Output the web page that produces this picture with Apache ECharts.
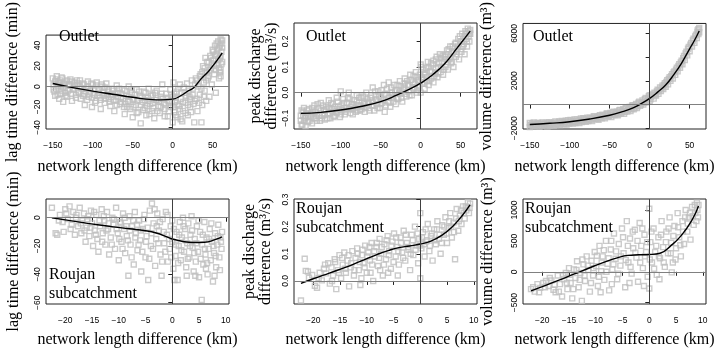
<!DOCTYPE html>
<html style="height: 100%">
<head>
    <meta charset="utf-8">
    <title>network length difference</title>
    <script type="text/javascript" src="https://cdn.jsdelivr.net/npm/echarts@6/dist/echarts.min.js"></script>
</head>
<body style="height: 100%; margin: 0; background: #fff">
    <div id="container" style="width: 718px; height: 351px"></div>
    <script type="text/javascript">
        // tick positions
        var xTicksOutlet = [-150, -100, -50, 0, 50];
        var xTicksRoujan = [-20, -15, -10, -5, 0, 5, 10];
        var yTicksLagOutlet = [-40, -20, 0, 20, 40];
        var yTicksPeakOutlet = [-0.1, 0.0, 0.1, 0.2];
        var yTicksVolOutlet = [-2000, 0, 2000, 4000, 6000];
        var yLabelsVolOutlet = [-2000, 2000, 6000];
        var yTicksLagRoujan = [-60, -40, -20, 0];
        var yTicksPeakRoujan = [0.0, 0.1, 0.2, 0.3];
        var yTicksVolRoujan = [-500, 0, 500, 1000];

        // Outlet - lag time difference (min)
        var lagOutletPts = [
            [-150,8],[-149,2],[-148,-5],[-147,5],[-146,-2],[-145,10],[-144,-8],[-143,3],[-142,-12],[-141,6],[-140,0],[-139,-4],
            [-138,8],[-137,-15],[-136,2],[-135,-6],[-133,5],[-132,-10],[-130,1],[-129,-3],[-128,7],[-126,-14],[-125,-2],[-123,4],
            [-121,-8],[-120,6],[-118,-5],[-116,0],[-115,-12],[-113,3],[-111,-7],[-110,-18],[-108,-2],[-106,5],[-105,-10],[-103,-4],
            [-101,-20],[-100,2],[-98,-8],[-96,-14],[-95,4],[-93,-6],[-91,-11],[-90,-22],[-88,0],[-86,-9],[-85,-16],[-83,3],
            [-81,-5],[-80,-12],[-78,-19],[-76,-2],[-75,-8],[-73,-24],[-71,-14],[-70,1],[-68,-6],[-66,-17],[-65,-11],[-63,-3],
            [-61,-20],[-60,-27],[-58,-9],[-56,-14],[-55,0],[-53,-22],[-51,-6],[-50,-30],[-48,-12],[-46,-18],[-45,-3],[-43,-25],
            [-41,-9],[-40,-36],[-38,-15],[-36,-5],[-35,-21],[-33,-28],[-31,-11],[-30,-2],[-28,-17],[-26,-24],[-25,-8],[-23,-31],
            [-21,-13],[-20,-4],[-18,-19],[-16,-26],[-15,-10],[-13,2],[-11,-16],[-10,-22],[-8,-7],[-6,-29],[-5,-14],[-3,-3],
            [-2,-20],[0,-35],[0,-10],[1,4],[2,-25],[3,-15],[5,-5],[6,-30],[8,-19],[9,2],[10,-12],[12,-34],[13,-24],[15,-6],
            [16,-16],[18,3],[19,-28],[21,-10],[22,-20],[24,6],[25,-2],[27,-35],[28,-14],[29,8],[31,-24],[32,0],[34,-8],[35,12],
            [36,-35],[37,-18],[38,20],[39,4],[40,-4],[41,28],[42,-14],[43,14],[44,8],[45,24],[46,-10],[47,30],[48,18],[49,2],
            [50,36],[51,26],[52,12],[53,40],[54,-6],[55,32],[56,22],[57,44],[58,8],[58,38],[59,28],[60,46],[60,16],[61,34],
            [61,42],[62,24],[62,45],
            [-149,-3],[-147,-9],[-146,7],[-144,1],[-142,4],[-140,-7],[-139,9],[-137,-1],[-135,3],[-134,-9],[-132,6],[-131,-4],
            [-129,2],[-127,-7],[-126,5],[-124,-3],[-122,1],[-121,-11],[-119,3],[-117,-6],[-116,6],[-114,-2],[-112,-9],[-111,2],
            [-109,-5],[-107,-13],[-106,0],[-104,-7],[-102,3],[-101,-11],[-99,-3],[-97,-16],[-96,1],[-94,-9],[-92,-3],[-90,-13],
            [-89,2],[-87,-6],[-85,-1],[-84,-12],[-82,-8],[-80,-3],[-79,-15],[-77,-10],[-75,-4],[-74,-13],[-72,-7],[-70,-18],
            [-69,-10],[-67,-2],[-65,-15],[-64,-7],[-62,-12],[-60,-4],[-59,-17],[-57,-20],[-55,-10],[-54,-15],[-52,-3],[-50,-13],
            [-49,-20],[-47,-8],[-45,-26],[-44,-14],[-42,-5],[-40,-18],[-39,-11],[-37,-23],[-35,-13],[-34,-6],[-32,-19],[-30,-14],
            [-29,-27],[-27,-9],[-25,-16],[-24,-21],[-22,-6],[-20,-13],[-19,-24],[-17,-15],[-15,-20],[-14,-7],[-12,-12],[-10,-29],
            [-9,-18],[-7,-11],[-5,-24],[-4,-16],[-2,-8],[-1,-14],[1,-20],[2,-7],[4,-28],[4,-11],[6,-18],[7,-2],[9,-22],[10,-32],
            [11,-6],[13,-15],[14,-1],[16,-26],[17,-9],[19,-18],[20,-4],[22,-12],[23,-25],[25,-8],[26,-17],[28,2],[30,-12],[31,6],
            [33,-16],[34,10],[36,-2],[37,14],[39,-10],[40,18],[42,6],[43,24],[45,10],[46,16],[48,28],[49,22],[51,34],[52,20],
            [53,30],[54,16],[55,42],[56,36],[57,26],[58,18],[59,40],[60,30],[61,22],[62,38],[59,14],[60,10]
        ];
        var lagOutletFit = [[-150,3],[-125,-1],[-100,-4.5],[-75,-7.5],[-50,-10.5],[-25,-12.8],[-15,-13],[0,-12.3],
            [10,-9],[20,-4],[26,-1.5],[35,7],[45,15],[50,20],[56,26],[62,33]];

        // Outlet - peak discharge difference (m3/s)
        var peakOutletPts = [
            [-150,-0.11],[-149,-0.07],[-148,-0.125],[-147,-0.09],[-146,-0.06],[-145,-0.1],[-144,-0.13],[-143,-0.08],[-141,-0.115],
            [-140,-0.065],[-138,-0.095],[-136,-0.12],[-135,-0.075],[-133,-0.05],[-131,-0.1],[-130,-0.085],[-128,-0.06],[-126,-0.11],
            [-125,-0.04],[-123,-0.09],[-121,-0.07],[-120,-0.105],[-118,-0.055],[-116,-0.085],[-115,-0.03],[-113,-0.1],[-111,-0.065],
            [-110,-0.045],[-108,-0.09],[-106,-0.075],[-105,-0.02],[-103,-0.055],[-101,-0.095],[-100,0.005],[-98,-0.07],[-96,-0.04],
            [-95,-0.085],[-93,-0.06],[-91,-0.02],[-90,0.0],[-88,-0.08],[-86,-0.045],[-85,-0.065],[-83,-0.03],[-81,-0.075],[-80,-0.01],
            [-78,-0.05],[-76,-0.07],[-75,-0.02],[-73,-0.055],[-71,-0.04],[-70,-0.075],[-68,0.0],[-66,-0.035],[-65,-0.06],[-63,-0.02],
            [-61,-0.05],[-60,0.02],[-58,-0.07],[-56,-0.03],[-55,-0.045],[-53,0.005],[-51,-0.06],[-50,-0.02],[-48,-0.04],[-46,0.03],
            [-45,-0.075],[-43,-0.01],[-41,-0.035],[-40,0.04],[-38,-0.055],[-36,0.0],[-35,-0.02],[-33,0.03],[-31,-0.045],[-30,0.01],
            [-28,-0.025],[-26,0.045],[-25,-0.005],[-23,-0.035],[-21,0.02],[-20,0.055],[-18,-0.015],[-16,0.03],[-15,0.005],[-13,0.07],
            [-11,-0.01],[-10,0.04],[-8,0.015],[-6,0.08],[-5,0.0],[-3,0.05],[-2,0.025],[0,0.11],[0,0.0],[1,0.06],[2,0.035],[3,0.09],
            [5,0.015],[6,0.07],[8,0.045],[9,0.12],[10,0.03],[12,0.085],[13,0.055],[15,0.11],[16,0.04],[18,0.075],[19,0.13],[21,0.06],
            [22,0.1],[24,0.15],[25,0.08],[27,0.12],[28,0.07],[30,0.14],[31,0.1],[33,0.165],[34,0.09],[36,0.13],[37,0.18],[38,0.115],
            [40,0.155],[41,0.1],[43,0.19],[44,0.14],[46,0.17],[47,0.21],[48,0.13],[50,0.2],[51,0.16],[52,0.23],[54,0.19],[55,0.15],
            [56,0.24],[57,0.21],[58,0.18],[59,0.25],[60,0.22],[61,0.2],[62,0.245],[62,0.23],
            [-150,-0.09],[-149,-0.125],[-147,-0.075],[-146,-0.11],[-144,-0.095],[-142,-0.07],[-141,-0.09],[-139,-0.11],[-137,-0.085],
            [-136,-0.06],[-134,-0.1],[-132,-0.075],[-130,-0.11],[-129,-0.045],[-127,-0.09],[-125,-0.07],[-124,-0.1],[-122,-0.05],
            [-120,-0.085],[-119,-0.065],[-117,-0.1],[-115,-0.06],[-114,-0.08],[-112,-0.04],[-110,-0.075],[-109,-0.095],[-107,-0.055],
            [-105,-0.08],[-104,-0.035],[-102,-0.065],[-100,-0.085],[-99,-0.05],[-97,-0.025],[-95,-0.06],[-94,-0.075],[-92,-0.04],
            [-90,-0.065],[-89,-0.025],[-87,-0.055],[-85,-0.085],[-84,-0.045],[-82,-0.06],[-80,-0.035],[-79,-0.07],[-77,-0.02],
            [-75,-0.05],[-74,-0.065],[-72,-0.015],[-70,-0.045],[-69,-0.06],[-67,-0.025],[-65,-0.04],[-64,-0.07],[-62,-0.01],
            [-60,-0.035],[-59,-0.05],[-57,0.005],[-55,-0.025],[-54,-0.06],[-52,-0.015],[-50,-0.045],[-49,0.01],[-47,-0.03],
            [-45,-0.005],[-44,-0.05],[-42,0.015],[-40,-0.02],[-39,-0.04],[-37,0.02],[-35,-0.01],[-34,-0.035],[-32,0.005],[-30,-0.02],
            [-29,0.03],[-27,0.0],[-25,0.025],[-24,-0.02],[-22,0.01],[-20,0.035],[-19,-0.005],[-17,0.045],[-15,0.03],[-14,-0.01],
            [-12,0.05],[-10,0.02],[-9,0.065],[-7,0.035],[-5,0.06],[-4,0.01],[-2,0.045],[-1,0.07],[1,0.1],[2,0.05],[4,0.075],[5,0.04],
            [7,0.095],[8,0.06],[10,0.1],[11,0.045],[13,0.115],[14,0.08],[16,0.125],[17,0.065],[19,0.095],[20,0.14],[22,0.075],
            [23,0.115],[25,0.135],[26,0.1],[28,0.145],[29,0.09],[31,0.13],[32,0.15],[34,0.12],[35,0.17],[37,0.14],[39,0.12],
            [40,0.18],[42,0.16],[44,0.195],[45,0.15],[47,0.18],[49,0.22],[50,0.17],[52,0.2],[53,0.18],[55,0.22],[57,0.23],[58,0.2],
            [60,0.24],[61,0.23]
        ];
        var peakOutletFit = [[-150,-0.081],[-125,-0.077],[-100,-0.068],[-75,-0.054],[-50,-0.035],[-30,-0.01],[-15,0.012],
            [0,0.037],[15,0.07],[30,0.113],[45,0.172],[55,0.212],[62,0.24]];

        // Outlet - volume difference (m3)
        var volOutletPts = [
            [-150,-1900],[-150,-1550],[-148,-1750],[-146,-1850],[-145,-1500],[-143,-1700],[-141,-1800],[-140,-1550],[-138,-1880],
            [-136,-1650],[-134,-1500],[-132,-1750],[-130,-1600],[-128,-1850],[-126,-1480],[-124,-1700],[-122,-1580],[-120,-1780],
            [-118,-1420],[-116,-1650],[-114,-1500],[-112,-1720],[-110,-1380],[-108,-1600],[-106,-1450],[-104,-1680],[-102,-1320],
            [-100,-1550],[-98,-1400],[-96,-1600],[-94,-1250],[-92,-1480],[-90,-1350],[-88,-1550],[-86,-1180],[-84,-1400],[-82,-1250],
            [-80,-1450],[-78,-1100],[-76,-1330],[-74,-1180],[-72,-1380],[-70,-1000],[-68,-1220],[-66,-1050],[-64,-1280],[-62,-900],
            [-60,-1150],[-58,-950],[-56,-1150],[-54,-780],[-52,-1000],[-50,-850],[-48,-1050],[-46,-650],[-44,-880],[-42,-700],
            [-40,-900],[-38,-500],[-36,-750],[-34,-550],[-32,-780],[-30,-300],[-28,-580],[-26,-350],[-24,-550],[-22,-100],[-20,-400],
            [-18,-150],[-16,-300],[-14,150],[-12,-100],[-10,150],[-8,0],[-6,450],[-4,200],[-2,500],[0,300],[0,800],[2,650],[4,900],
            [5,500],[6,1000],[8,750],[10,1250],[11,900],[13,1450],[14,1150],[16,1600],[17,1300],[19,1800],[20,1500],[22,2050],
            [23,1700],[25,2300],[26,2000],[28,2550],[29,2200],[31,2800],[32,2500],[34,3100],[35,2800],[37,3400],[38,3100],[40,3700],
            [41,3400],[43,4100],[44,3750],[46,4450],[47,4150],[49,4850],[50,4500],[52,5200],[53,4900],[55,5550],[56,5200],[58,5900],
            [59,5600],[60,6250],[61,5950],[62,6450],[62,6100],
            [-149,-1700],[-147,-1600],[-144,-1820],[-142,-1620],[-139,-1720],[-137,-1550],[-135,-1800],[-133,-1650],[-131,-1720],
            [-129,-1530],[-127,-1680],[-125,-1780],[-123,-1560],[-121,-1650],[-119,-1500],[-117,-1720],[-115,-1600],[-113,-1420],
            [-111,-1580],[-109,-1480],[-107,-1650],[-105,-1350],[-103,-1500],[-101,-1600],[-99,-1300],[-97,-1480],[-95,-1380],
            [-93,-1550],[-91,-1250],[-89,-1400],[-87,-1300],[-85,-1480],[-83,-1150],[-81,-1350],[-79,-1250],[-77,-1400],[-75,-1100],
            [-73,-1280],[-71,-1150],[-69,-1000],[-67,-1150],[-65,-1200],[-63,-950],[-61,-1080],[-59,-850],[-57,-1020],[-55,-900],
            [-53,-750],[-51,-950],[-49,-700],[-47,-880],[-45,-600],[-43,-780],[-41,-600],[-39,-800],[-37,-450],[-35,-650],[-33,-400],
            [-31,-600],[-29,-250],[-27,-450],[-25,-200],[-23,-380],[-21,-50],[-19,-300],[-17,50],[-15,-150],[-13,250],[-11,0],
            [-9,350],[-7,150],[-5,550],[-3,300],[-1,700],[1,450],[3,800],[7,800],[9,1100],[12,1200],[15,1400],[18,1650],[21,1900],
            [24,2150],[27,2400],[30,2700],[33,2950],[36,3250],[39,3550],[42,3900],[45,4300],[48,4700],[51,5050],[54,5400],
            [57,5750],[60,6100],[61,6350]
        ];
        var volOutletFit = [[-150,-1680],[-125,-1580],[-100,-1450],[-75,-1220],[-50,-900],[-35,-620],[-20,-250],[-10,100],
            [0,520],[10,1050],[20,1650],[30,2500],[40,3500],[50,4700],[56,5400],[62,6200]];

        // Roujan subcatchment - lag time difference (min)
        var lagRoujanPts = [
            [-22.5,7],[-21.8,-11],[-21.5,-12],[-21,2],[-20.5,-3],[-20,6],[-19.5,-1],[-19.2,8],[-19,-8],[-18.5,4],[-18.2,-12],[-18,0],
            [-17.6,-6],[-17.3,7],[-17,-11],[-16.8,-2],[-16.5,3],[-16.2,-17],[-16,-7],[-15.7,1],[-15.5,-13],[-15.2,5],[-15,-4],
            [-14.8,-20],[-14.5,-9],[-14.2,2],[-14,-15],[-13.8,-24],[-13.5,-6],[-13.2,6],[-13,-11],[-12.7,-2],[-12.5,-19],[-12.2,4],
            [-12,-8],[-11.8,-26],[-11.5,-14],[-11.2,0],[-11,-5],[-10.7,-22],[-10.5,7],[-10.2,-11],[-10,-30],[-9.8,-3],[-9.5,-17],
            [-9.2,3],[-9,-8],[-8.8,-25],[-8.5,-13],[-8.2,-41],[-8,1],[-7.8,-19],[-7.5,-6],[-7.2,-33],[-7,4],[-6.8,-11],[-6.5,-23],
            [-6.2,-2],[-6,-16],[-5.8,-38],[-5.5,-8],[-5.2,2],[-5,-28],[-4.8,-13],[-4.5,-44],[-4.2,5],[-4,-20],[-3.8,10],[-3.5,-4],
            [-3.2,-34],[-3,-15],[-2.8,3],[-2.5,-9],[-2.2,-26],[-2,-41],[-1.8,-1],[-1.5,-18],[-1.2,4],[-1,-12],[-0.8,-31],[-0.5,-22],
            [-0.3,-6],[0,-2],[0,-17],[0.2,-36],[0.4,-44],[0.6,-27],[0.8,-10],[1,-44],[1.2,-20],[1.4,-3],[1.6,-30],[1.8,-14],[2,0],
            [2.2,-24],[2.4,-8],[2.6,-35],[2.8,-18],[3,-4],[3.2,-28],[3.4,-12],[3.6,1],[3.8,-21],[4,-38],[4.2,-15],[4.4,-31],[4.6,-6],
            [4.8,-24],[5,-42],[5.2,-10],[5.5,-58],[5.6,-19],[5.8,-33],[6,-3],[6.2,-26],[6.4,-14],[6.6,-40],[6.8,-22],[7,-8],[7.2,-30],
            [7.4,-17],[7.6,-45],[7.8,-25],[8,-11],[8.2,-35],[8.4,-19],[8.6,-5],[8.8,-28],[9,-14],[9.2,-22],[9.3,-10],
            [-21.2,-2],[-20.3,-10],[-19.8,3],[-18.8,-5],[-17.9,2],[-17.1,-4],[-16.4,-9],[-15.9,-1],[-15.3,-7],[-14.6,4],[-14.3,-12],
            [-13.6,-2],[-13.1,-17],[-12.8,1],[-12.3,-9],[-11.9,-4],[-11.3,-19],[-10.9,-1],[-10.4,-8],[-9.9,-15],[-9.6,-4],[-9.3,-22],
            [-8.9,0],[-8.6,-6],[-8.3,-16],[-7.9,-9],[-7.6,-28],[-7.3,-2],[-6.9,-14],[-6.6,-5],[-6.3,-19],[-5.9,-9],[-5.6,-24],
            [-5.3,-1],[-4.9,-17],[-4.6,-7],[-4.3,-29],[-3.9,-11],[-3.6,-22],[-3.3,6],[-2.9,-6],[-2.6,-18],[-2.3,-3],[-1.9,-31],
            [-1.6,-10],[-1.3,-24],[-0.9,2],[-0.6,-15],[-0.2,-28],[0.3,-8],[0.7,-19],[1.1,-32],[1.3,-12],[1.7,-23],[2.1,-6],[2.5,-16],
            [2.9,-29],[3.3,-20],[3.7,-9],[4.1,-25],[4.5,-18],[4.9,-2],[5.3,-29],[5.7,-12],[6.1,-22],[6.5,-32],[6.9,-15],[7.3,-4],
            [7.7,-20],[8.1,-27],[8.5,-13],[8.9,-37],[9.1,-17],[7.9,-41],[6.3,-36],[4.3,-41],[2.7,-41]
        ];
        var lagRoujanFit = [[-22.5,0],[-20,-1.5],[-17,-3.3],[-14,-5],[-11,-6.5],[-8,-7.8],[-5,-9.2],[-3,-10.8],[-1,-13.5],
            [0,-15],[2,-16.8],[4,-17.5],[6,-17.3],[8,-15.5],[9.3,-13.5]];

        // Roujan subcatchment - peak discharge difference (m3/s)
        var peakRoujanPts = [
            [-22.3,-0.072],[-21.6,0.082],[-21.4,0.037],[-20.8,0.012],[-20.2,0.022],[-19.7,-0.018],[-19.3,-0.025],[-18.8,0.03],
            [-18.4,0.002],[-18,0.045],[-17.6,0.028],[-17.2,0.065],[-16.9,-0.01],[-16.6,0.05],[-16.3,0.02],[-16,0.08],[-15.7,-0.03],
            [-15.4,0.04],[-15.1,0.095],[-14.8,0.01],[-14.5,0.06],[-14.2,0.105],[-13.9,0.03],[-13.6,0.075],[-13.3,-0.02],[-13,0.05],
            [-12.7,0.11],[-12.4,0.02],[-12.1,0.085],[-11.8,0.12],[-11.5,0.04],[-11.2,-0.015],[-10.9,0.095],[-10.6,0.065],[-10.3,0.13],
            [-10,0.03],[-9.7,0.105],[-9.4,0.075],[-9.1,0.14],[-8.8,0.0],[-8.5,0.09],[-8.2,0.125],[-7.9,0.055],[-7.6,0.155],[-7.3,0.1],
            [-7,0.02],[-6.7,0.135],[-6.4,0.08],[-6.1,0.165],[-5.8,0.11],[-5.5,0.045],[-5.2,0.145],[-4.9,0.175],[-4.6,0.09],[-4.3,0.125],
            [-4,0.06],[-3.7,0.16],[-3.4,0.105],[-3.1,0.185],[-2.8,0.075],[-2.5,0.14],[-2.2,0.115],[-1.9,0.04],[-1.6,0.17],[-1.3,0.095],
            [-1,0.2],[-0.7,0.13],[-0.4,0.065],[-0.2,0.155],[0,0.25],[0,0.01],[0.2,0.12],[0.5,0.18],[0.8,0.09],[1.1,0.145],[1.4,0.21],
            [1.7,0.11],[2,0.165],[2.3,0.075],[2.6,0.19],[2.9,0.135],[3.2,0.22],[3.5,0.155],[3.8,0.1],[4.1,0.205],[4.4,0.17],[4.7,0.235],
            [5,0.14],[5.3,0.195],[5.6,0.25],[5.9,0.16],[6.2,0.215],[6.5,0.08],[6.8,0.265],[7.1,0.185],[7.4,0.24],[7.7,0.21],[8,0.275],
            [8.3,0.23],[8.6,0.26],[8.9,0.29],[9.1,0.25],[9.3,0.285],
            [-21,0.035],[-19,0.01],[-17.8,0.06],[-16.5,0.0],[-15.9,0.07],[-15.2,0.03],[-14.6,0.085],[-14,0.045],[-13.4,0.095],
            [-12.9,0.065],[-12.3,0.04],[-11.7,0.1],[-11.3,0.07],[-10.8,0.115],[-10.4,0.05],[-9.9,0.09],[-9.5,0.125],[-9,0.06],
            [-8.6,0.11],[-8.1,0.14],[-7.7,0.085],[-7.2,0.125],[-6.8,0.06],[-6.3,0.15],[-5.9,0.095],[-5.4,0.13],[-5,0.07],[-4.5,0.16],
            [-4.1,0.11],[-3.6,0.14],[-3.2,0.085],[-2.7,0.17],[-2.3,0.125],[-1.8,0.1],[-1.4,0.15],[-0.9,0.115],[-0.5,0.175],
            [-0.1,0.13],[0.3,0.16],[0.7,0.135],[1,0.19],[1.3,0.15],[1.8,0.13],[2.2,0.175],[2.7,0.15],[3.1,0.19],[3.6,0.17],[4,0.14],
            [4.5,0.2],[4.9,0.175],[5.4,0.22],[5.8,0.2],[6.3,0.18],[6.7,0.23],[7.2,0.22],[7.6,0.26],[8.1,0.25],[8.5,0.275],[8.8,0.27],
            [9.2,0.27],[-7.5,0.04],[-9.3,0.03],[-11,0.01],[-6,0.03],[-4.2,0.02]
        ];
        var peakRoujanFit = [[-22.3,-0.009],[-20,0.008],[-17,0.029],[-14,0.05],[-11,0.074],[-8,0.098],[-6,0.112],[-4,0.123],
            [-2,0.129],[0,0.136],[2,0.147],[4,0.168],[6,0.2],[8,0.245],[9.3,0.28]];

        // Roujan subcatchment - volume difference (m3)
        var volRoujanPts = [
            [-22.1,-280],[-21.4,-320],[-20.9,-200],[-20.4,-260],[-19.8,-180],[-19.3,-150],[-18.8,-230],[-18.3,-140],[-17.9,-290],
            [-17.5,-330],[-17.1,-60],[-16.7,-200],[-16.3,-400],[-15.9,-120],[-15.6,-20],[-15.3,-280],[-15,60],[-14.7,-180],
            [-14.4,-430],[-14.1,40],[-13.8,-100],[-13.5,170],[-13.2,-250],[-12.9,-20],[-12.6,-470],[-12.3,120],[-12,-150],[-11.7,250],
            [-11.4,30],[-11.1,-320],[-10.8,180],[-10.5,-60],[-10.2,320],[-9.9,90],[-9.6,-230],[-9.3,420],[-9,10],[-8.7,250],
            [-8.4,-130],[-8.1,500],[-7.8,130],[-7.5,-300],[-7.2,360],[-6.9,40],[-6.6,620],[-6.3,210],[-6,-120],[-5.7,450],[-5.4,100],
            [-5.1,700],[-4.8,300],[-4.5,-250],[-4.2,820],[-3.9,150],[-3.6,540],[-3.3,-30],[-3,380],[-2.7,680],[-2.4,230],[-2.1,-160],
            [-1.8,790],[-1.5,420],[-1.2,60],[-0.9,600],[-0.6,320],[-0.3,-80],[0,1020],[0,-270],[0.2,480],[0.5,150],[0.8,700],
            [1.1,320],[1.4,-50],[1.7,560],[2,220],[2.3,820],[2.6,400],[2.9,80],[3.2,650],[3.5,300],[3.8,880],[4.1,470],[4.4,150],
            [4.7,740],[5,380],[5.3,950],[5.6,560],[5.9,250],[6.2,820],[6.5,450],[6.8,1000],[7.1,650],[7.4,880],[7.7,520],[8,1050],
            [8.3,760],[8.6,950],[8.9,1120],[9.1,880],[9.2,1080],
            [-21.7,-250],[-20.6,-330],[-19.5,-250],[-18.6,-100],[-17.7,-210],[-16.9,-320],[-16.1,-60],[-15.4,-180],[-14.9,-50],
            [-14.2,-280],[-13.6,30],[-13,-130],[-12.5,200],[-12.1,-60],[-11.5,100],[-10.9,-180],[-10.4,60],[-9.8,260],[-9.4,-80],
            [-8.9,150],[-8.5,350],[-8,0],[-7.6,220],[-7.1,500],[-6.7,120],[-6.2,330],[-5.8,-30],[-5.3,250],[-4.9,560],[-4.4,190],
            [-4,420],[-3.5,80],[-3.1,650],[-2.6,310],[-2.2,500],[-1.7,150],[-1.3,700],[-0.8,250],[-0.4,480],[0.1,200],[0.4,650],
            [0.9,50],[1.3,420],[1.8,250],[2.2,600],[2.7,150],[3.1,480],[3.6,700],[4,300],[4.5,580],[4.9,200],[5.4,720],[5.8,430],
            [6.3,650],[6.7,880],[7.2,780],[7.6,950],[8.1,900],[8.5,1080],[8.8,820],[9,1000],[-7,-200],[-9.1,-330],[-3.7,-180],
            [-1,-230],[1.9,-120],[4.2,-10]
        ];
        var volRoujanFit = [[-22.1,-308],[-20,-240],[-17,-140],[-14,-35],[-11,70],[-8,170],[-6,225],[-4,265],[-2,275],
            [0,280],[2,300],[4,420],[6,590],[8,840],[9.2,1065]];

        var serif = 'Liberation Serif';
        var sans = 'Liberation Sans';

        var panels = [
            { grid: [46, 23, 183, 106], pts: lagOutletPts, fit: lagOutletFit, xr: [-158.5, 70.5], yr: [-41.5, 50.3],
              xt: xTicksOutlet, yt: yTicksLagOutlet, yl: yTicksLagOutlet, dec: 0,
              yname: 'lag time difference (min)', ygap: 25, xgap: 30 },
            { grid: [294, 23, 183, 106], pts: peakOutletPts, fit: peakOutletFit, xr: [-158.5, 70.5], yr: [-0.142, 0.272],
              xt: xTicksOutlet, yt: yTicksPeakOutlet, yl: yTicksPeakOutlet, dec: 1,
              yname: 'peak discharge\ndifference (m³/s)', ygap: 14, xgap: 30 },
            { grid: [523, 23, 183, 106], pts: volOutletPts, fit: volOutletFit, xr: [-158.5, 70.5], yr: [-2060, 6840],
              xt: xTicksOutlet, yt: yTicksVolOutlet, yl: yLabelsVolOutlet, dec: 0,
              yname: 'volume difference (m³)', ygap: 28, xgap: 30 },
            { grid: [46, 199, 183, 105], pts: lagRoujanPts, fit: lagRoujanFit, xr: [-23.6, 10.6], yr: [-60.9, 13.2],
              xt: xTicksRoujan, yt: yTicksLagRoujan, yl: yTicksLagRoujan, dec: 0,
              yname: 'lag time difference (min)', ygap: 24, xgap: 28 },
            { grid: [294, 199, 183, 105], pts: peakRoujanPts, fit: peakRoujanFit, xr: [-23.6, 10.6], yr: [-0.085, 0.302],
              xt: xTicksRoujan, yt: yTicksPeakRoujan, yl: yTicksPeakRoujan, dec: 1,
              yname: 'peak discharge\ndifference (m³/s)', ygap: 20, xgap: 28 },
            { grid: [523, 199, 183, 105], pts: volRoujanPts, fit: volRoujanFit, xr: [-23.6, 10.6], yr: [-521, 1178],
              xt: xTicksRoujan, yt: yTicksVolRoujan, yl: yTicksVolRoujan, dec: 0,
              yname: 'volume difference (m³)', ygap: 27.5, xgap: 28 }
        ];

        function fmt(dec) {
            return function (v) {
                var s = dec ? v.toFixed(dec) : String(Math.round(v));
                return s.replace('-', '\u2212');
            };
        }

        var grids = [], xAxes = [], yAxes = [], series = [];
        panels.forEach(function (p, i) {
            grids.push({
                left: p.grid[0], top: p.grid[1], width: p.grid[2], height: p.grid[3],
                show: true, borderColor: '#222', borderWidth: 1, backgroundColor: 'transparent'
            });
            xAxes.push({
                gridIndex: i, type: 'value', min: p.xr[0], max: p.xr[1],
                name: 'network length difference (km)', nameLocation: 'middle', nameGap: p.xgap,
                nameTextStyle: { fontFamily: serif, fontSize: 16, color: '#000' },
                axisLine: { show: false },
                axisTick: { show: true, length: 4, customValues: p.xt, lineStyle: { color: '#222' } },
                axisLabel: { customValues: p.xt, margin: 12, fontFamily: sans, fontSize: 8.5, color: '#000', formatter: fmt(0) },
                splitLine: { show: false }
            });
            yAxes.push({
                gridIndex: i, type: 'value', min: p.yr[0], max: p.yr[1],
                name: p.yname, nameLocation: 'middle', nameGap: p.ygap, nameRotate: 90,
                nameTextStyle: { fontFamily: serif, fontSize: 16, color: '#000', lineHeight: 16 },
                axisLine: { show: false },
                axisTick: { show: true, length: 4, customValues: p.yt, lineStyle: { color: '#222' } },
                axisLabel: { customValues: p.yl, rotate: 90, margin: 4, fontFamily: sans, fontSize: 8.5, color: '#000', formatter: fmt(p.dec) },
                splitLine: { show: false }
            });
            series.push({
                type: 'scatter', xAxisIndex: i, yAxisIndex: i, data: p.pts,
                symbol: 'rect', symbolSize: 5, z: 1, silent: true,
                itemStyle: { color: 'transparent', borderColor: '#bebebe', borderWidth: 1.4 }
            });
            series.push({
                type: 'line', xAxisIndex: i, yAxisIndex: i, data: p.fit,
                smooth: true, symbol: 'none', z: 3, silent: true,
                lineStyle: { color: '#000', width: 1.4 },
                markLine: {
                    silent: true, symbol: ['none', 'none'], label: { show: false }, animation: false,
                    data: [
                        { yAxis: 0, lineStyle: { color: '#808080', width: 1, type: 'solid' } },
                        { xAxis: 0, lineStyle: { color: '#404040', width: 1, type: 'solid' } }
                    ]
                }
            });
        });

        var labelStyle = { fontFamily: serif, fontSize: 16, fontWeight: 'normal', color: '#000', lineHeight: 19 };
        var titles = [
            { text: 'Outlet', left: 59, top: 27 },
            { text: 'Outlet', left: 306, top: 27 },
            { text: 'Outlet', left: 533, top: 27 },
            { text: 'Roujan\nsubcatchment', left: 49, top: 265 },
            { text: 'Roujan\nsubcatchment', left: 296, top: 199 },
            { text: 'Roujan\nsubcatchment', left: 525, top: 199 }
        ].map(function (t) {
            t.padding = 0; t.textStyle = labelStyle; return t;
        });

        var myChart = echarts.init(document.getElementById('container'), null, { renderer: 'canvas' });
        var option = {
            animation: false,
            backgroundColor: '#fff',
            title: titles,
            grid: grids,
            xAxis: xAxes,
            yAxis: yAxes,
            series: series
        };
        myChart.setOption(option, true);
    </script>
</body>
</html>
